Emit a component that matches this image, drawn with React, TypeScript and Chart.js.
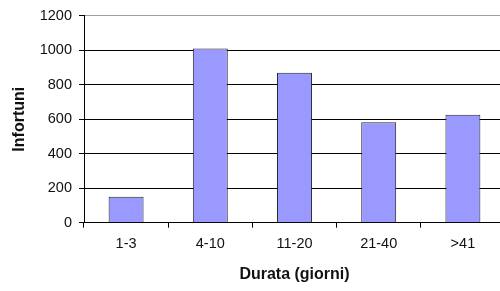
import React, { useEffect, useRef } from "react";
import { Chart, registerables } from "chart.js";

Chart.register(...registerables);

const categories = ["1-3", "4-10", "11-20", "21-40", ">41"];
const infortuni = [150, 1010, 870, 583, 626];
const yTicks = [0, 200, 400, 600, 800, 1000, 1200];
const xTitle = "Durata (giorni)";
const yTitle = "Infortuni";

const FONT = "'Liberation Sans', Arial, sans-serif";
const TITLE_SIZE = 16;
const TICK_SIZE = 14.5;

export default function App() {
  const ref = useRef<HTMLCanvasElement | null>(null);
  useEffect(() => {
    if (!ref.current) return;
    const tLH = TITLE_SIZE * 1.2;
    const chart = new Chart(ref.current, {
      type: "bar",
      data: {
        labels: categories,
        datasets: [
          {
            data: infortuni,
            backgroundColor: "#9999FF",
            borderColor: "#262626",
            borderWidth: 1,
            barPercentage: 0.415,
            categoryPercentage: 1,
          },
        ],
      },
      options: {
        responsive: false,
        animation: false,
        devicePixelRatio: 1,
        layout: { padding: { top: 15, right: 1, left: 0, bottom: 0 } },
        plugins: { legend: { display: false }, tooltip: { enabled: false } },
        scales: {
          x: {
            offset: true,
            grid: {
              display: true,
              offset: true,
              drawOnChartArea: false,
              drawTicks: true,
              tickLength: 5,
              color: "#000",
              lineWidth: 1,
            },
            border: { display: true, color: "#000", width: 1 },
            ticks: {
              color: "#111",
              padding: 8,
              font: { family: FONT, size: TICK_SIZE },
              maxRotation: 0,
            },
            title: {
              display: true,
              text: xTitle,
              color: "#111",
              font: { family: FONT, size: TITLE_SIZE, weight: "bold" },
              padding: { top: 0, bottom: 16 - tLH / 2 },
            },
            afterFit: (s: any) => {
              s.height = 68.3;
            },
          },
          y: {
            min: 0,
            max: 1200,
            afterBuildTicks: (s: any) => {
              s.ticks = yTicks.map((v) => ({ value: v }));
            },
            grid: {
              color: (c: any) => (c.tick && c.tick.value === 1200 ? "#a0a0a0" : "#000"),
              lineWidth: 1,
              drawTicks: true,
              tickLength: 5,
              tickColor: "#000",
            },
            border: { display: true, color: "#000", width: 1 },
            ticks: {
              color: "#111",
              padding: 7,
              font: { family: FONT, size: TICK_SIZE },
              callback: (v: any) => String(v),
            },
            title: {
              display: true,
              text: yTitle,
              color: "#111",
              font: { family: FONT, size: TITLE_SIZE, weight: "bold" },
              padding: { top: 20 - tLH / 2, bottom: 0 },
            },
            afterFit: (s: any) => {
              s.width = 84;
            },
          },
        },
      },
    });
    return () => chart.destroy();
  }, []);
  return (
    <div
      style={{
        position: "absolute",
        left: 0,
        top: 0,
        width: 500,
        height: 291,
        overflow: "hidden",
        background: "#fff",
      }}
    >
      <canvas ref={ref} width={506} height={291} style={{ display: "block" }} />
    </div>
  );
}
